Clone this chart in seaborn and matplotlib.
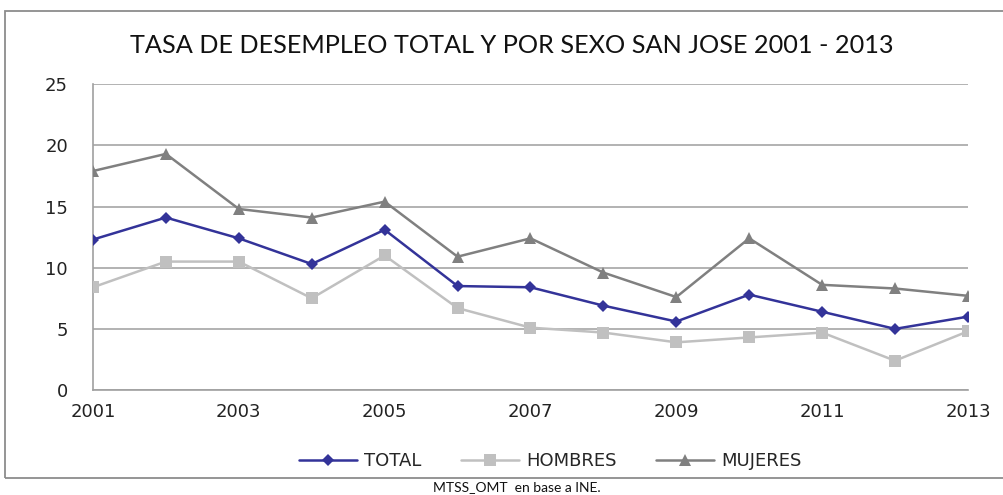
import pandas as pd
import numpy as np
import matplotlib.pyplot as plt
import seaborn as sns
from matplotlib.patches import Rectangle

# datos
years = list(range(2001, 2014))
total = [12.3, 14.1, 12.4, 10.3, 13.1, 8.5, 8.4, 6.9, 5.6, 7.8, 6.4, 5.0, 6.0]
hombres = [8.4, 10.5, 10.5, 7.5, 11.0, 6.7, 5.1, 4.7, 3.9, 4.3, 4.7, 2.4, 4.8]
mujeres = [17.9, 19.3, 14.8, 14.1, 15.4, 10.9, 12.4, 9.6, 7.6, 12.4, 8.6, 8.3, 7.7]

df = pd.DataFrame({'Año': years, 'TOTAL': total, 'HOMBRES': hombres, 'MUJERES': mujeres})

sns.set_style('white')
plt.rcParams['font.family'] = ['DejaVu Sans']

fig = plt.figure(figsize=(10.04, 4.95), dpi=100)
ax = fig.add_axes([0.0926, 0.212, 0.8715, 0.618])

sns.lineplot(data=df, x='Año', y='MUJERES', ax=ax, color='#808080', marker='^',
             markersize=8.5, markeredgewidth=0, linewidth=1.8, label='MUJERES', zorder=3)
sns.lineplot(data=df, x='Año', y='HOMBRES', ax=ax, color='#c0c0c0', marker='s',
             markersize=8, markeredgewidth=0, linewidth=1.8, label='HOMBRES', zorder=3)
sns.lineplot(data=df, x='Año', y='TOTAL', ax=ax, color='#333399', marker='D',
             markersize=6.5, markeredgewidth=0, linewidth=1.8, label='TOTAL', zorder=4)

ax.set_xlim(2001, 2013)
ax.set_ylim(0, 25)
ax.set_yticks(range(0, 26, 5))
ax.set_xticks(years)
ax.set_xticklabels([str(y) if (y - 2001) % 2 == 0 else '' for y in years])
ax.set_xlabel('')
ax.set_ylabel('')
ax.grid(axis='y', color='#a6a6a6', linewidth=1.2)
ax.set_axisbelow(True)
for s in ['top', 'right']:
    ax.spines[s].set_visible(False)
for s in ['left', 'bottom']:
    ax.spines[s].set_color('#a0a0a0')
    ax.spines[s].set_linewidth(1.2)
ax.tick_params(axis='both', direction='out', length=6, width=1.2, color='#a0a0a0',
               labelsize=13, labelcolor='#222222')
ax.tick_params(axis='y', pad=12)

h, l = ax.get_legend_handles_labels()
order = [2, 1, 0]
fig.legend([h[i] for i in order], [l[i] for i in order], ncol=3, frameon=False,
           loc='center', bbox_to_anchor=(0.548, 0.068), fontsize=13,
           handlelength=3.2, columnspacing=2.2, handletextpad=0.4)
if ax.get_legend():
    ax.get_legend().remove()

fig.text(0.51, 0.908, 'TASA DE DESEMPLEO TOTAL Y POR SEXO SAN JOSE 2001 - 2013',
         ha='center', va='center', fontsize=18.2, family=['Lato', 'DejaVu Sans'],
         color='#111111')
fig.patches.append(Rectangle((0.005, 0.035), 1.2, 0.943, transform=fig.transFigure,
                             fill=False, edgecolor='#8c8c8c', linewidth=1.3))
fig.text(0.515, 0.003, 'MTSS_OMT  en base a INE.', ha='center', va='bottom',
         fontsize=10, family=['Lato', 'DejaVu Sans'], color='#111111')

fig.savefig('out.png', dpi=100)
plt.close()
